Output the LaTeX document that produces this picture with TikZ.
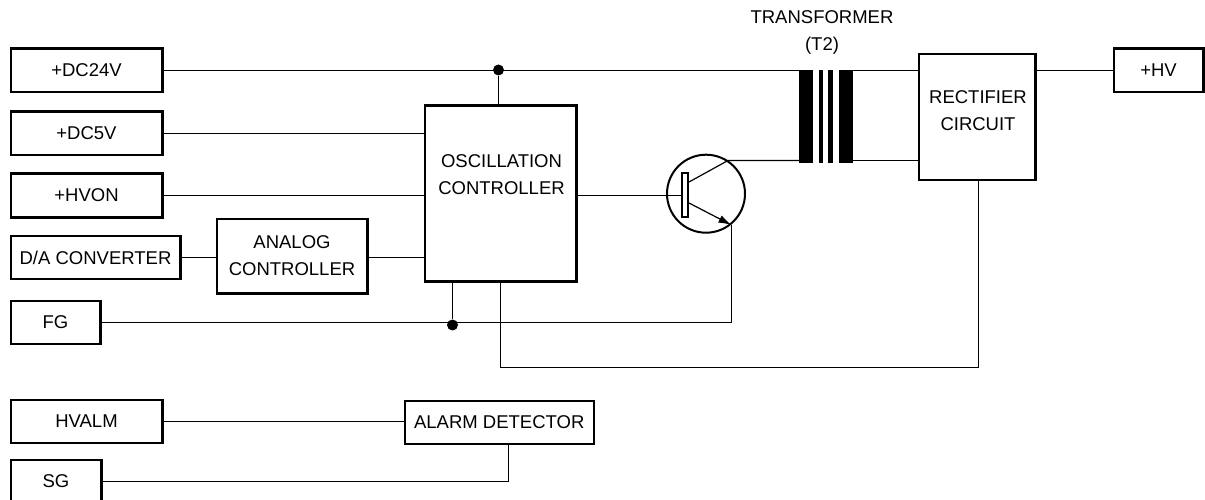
\documentclass[tikz,border=0pt]{standalone}
\usepackage{fontspec}
\setmainfont{Liberation Sans}
\usepackage{tikz}
\usetikzlibrary{calc}
\usetikzlibrary{arrows.meta}

\begin{document}
\begin{tikzpicture}[
  x=1pt,y=-1pt,
  line join=miter,
  >=Latex,
  box/.style={draw=black,line width=2.4pt,fill=white,inner sep=0pt,anchor=north west,
    font=\fontsize{18.5}{27}\selectfont,align=center},
  wire/.style={draw=black,line width=1.2pt},
  txt/.style={inner sep=0pt,font=\fontsize{18.5}{27}\selectfont,align=center},
  dot/.style={circle,fill=black,inner sep=0pt,minimum size=11pt},
  core/.style={fill=black,inner sep=0pt,minimum height=93pt,anchor=north west}
]
\clip (0,0) rectangle (1205,500);

% input boxes
\node[box,minimum width=151.6pt,minimum height=43.6pt] (dc24) at (9.5,47.5) {+DC24V};
\node[box,minimum width=151.6pt,minimum height=43.6pt] (dc5) at (9.5,110.5) {+DC5V};
\node[box,minimum width=151.6pt,minimum height=43.6pt] (hvon) at (9.5,172.5) {+HVON};
\node[box,minimum width=169.6pt,minimum height=42.6pt] (dac) at (9.5,235) {D/A CONVERTER};
\node[box,minimum width=89.6pt,minimum height=42.6pt] (fg) at (9.5,300) {FG};
\node[box,minimum width=151.6pt,minimum height=42.6pt] (hvalm) at (9.5,399) {HVALM};
\node[box,minimum width=90.6pt,minimum height=43.6pt] (sg) at (9.5,458.5) {SG};

% blocks
\node[box,minimum width=150.6pt,minimum height=74.6pt] (analog) at (215.5,217.5) {ANALOG\\CONTROLLER};
\node[box,minimum width=151.1pt,minimum height=175.6pt] (osc) at (424,104.5) {};
\node[txt] (osctxt) at (501.5,175) {OSCILLATION\\CONTROLLER};
\node[box,minimum width=116.6pt,minimum height=125.6pt] (rect) at (917.5,53) {};
\node[txt] (recttxt) at (978,111) {RECTIFIER\\CIRCUIT};
\node[box,minimum width=189.1pt,minimum height=42.6pt] (alarm) at (403.5,400) {ALARM DETECTOR};
\node[box,minimum width=89.6pt,minimum height=43.6pt] (hv) at (1112.5,47.5) {+HV};

% transformer
\node[txt] (t2txt) at (822,32) {TRANSFORMER\\(T2)};
\node[core,minimum width=13.5pt] (coreL) at (799,69.5) {};
\node[core,minimum width=4.5pt] (coreA) at (818.5,69.5) {};
\node[core,minimum width=4.5pt] (coreB) at (828,69.5) {};
\node[core,minimum width=13.5pt] (coreR) at (839,69.5) {};

% transistor
\node[circle,draw=black,line width=2pt,minimum size=78pt,inner sep=0pt] (trans) at (706,193.7) {};
\coordinate (coll) at (728,160.5);
\coordinate (emit) at (731.5,225);

% junctions
\node[dot] (j1) at (498.5,70) {};
\node[dot] (j2) at (452.5,325) {};

% connectors
\draw[wire] (dc24.east) -- (coreL.west |- dc24.east);
\draw[wire] (j1) -- (j1 |- osc.north);
\draw[wire] (dc5.east) -- (dc5.east -| osc.west);
\draw[wire] (hvon.east) -- (hvon.east -| osc.west);
\draw[wire] (dac.east) -- (dac.east -| analog.west);
\draw[wire] (dac.east -| analog.east) -- (dac.east -| osc.west);
\draw[wire] (osc.east |- 0,195.5) -- (685,195.5);
\draw[wire] (fg.east) -- (fg.east -| emit) -- (emit);
\draw[wire] (j2) -- (j2 |- osc.south);
\draw[wire] (osc.south -| 500.5,0) -- (500.5,367.5) -- (978.5,367.5) -- (978.5,180);
\draw[wire] (689,182) -- (coll) -- (coreL.west |- coll);
\draw[wire,-{Latex[length=13pt,width=8pt]}] (689,203) -- (emit);
\draw[wire] (coreR.east |- dc24.east) -- (rect.west |- dc24.east);
\draw[wire] (coreR.east |- coll) -- (rect.west |- coll);
\draw[wire] (rect.east |- hv.west) -- (hv.west);
\draw[wire] (hvalm.east) -- (hvalm.east -| alarm.west);
\draw[wire] (sg.east) -- (sg.east -| 508.5,0) -- (alarm.south -| 508.5,0);

% base bar drawn over its wire
\node[draw=black,line width=1.6pt,fill=white,inner sep=0pt,minimum width=6.4pt,minimum height=44.4pt] (base) at (685,195) {};

\end{tikzpicture}
\end{document}
